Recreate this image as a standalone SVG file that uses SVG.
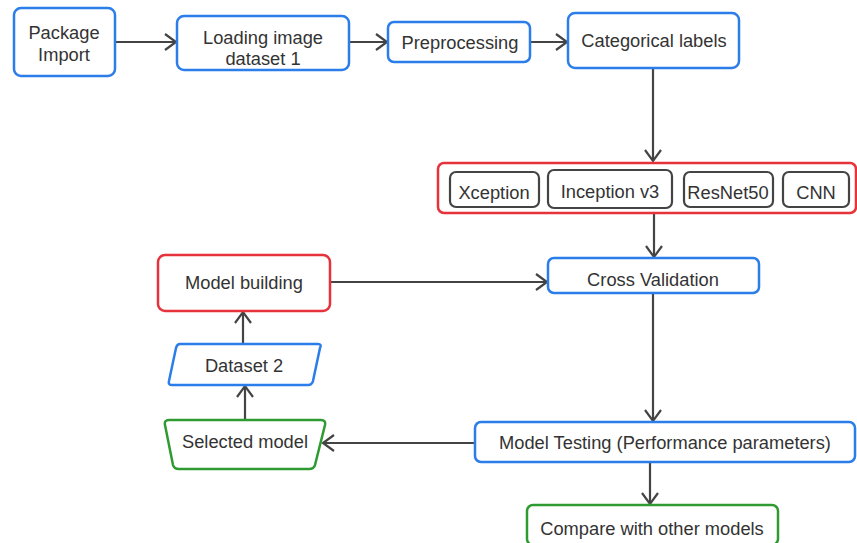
<svg xmlns="http://www.w3.org/2000/svg" width="857" height="543" viewBox="0 0 857 543">
<style>
text{font-family:"Liberation Sans",Arial,sans-serif;font-size:18.3px;fill:#333;text-anchor:middle;dominant-baseline:central}
.blue{fill:#fff;stroke:#2b7de9;stroke-width:2.5}
.red{fill:#fff;stroke:#e5323b;stroke-width:2.5}
.green{fill:#fff;stroke:#2f9a32;stroke-width:2.5}
.inner{fill:#fff;stroke:#444;stroke-width:2.2}
.conn{fill:none;stroke:#444;stroke-width:2.2;marker-end:url(#arr)}
</style>
<defs>
<marker id="arr" markerUnits="userSpaceOnUse" markerWidth="22" markerHeight="22" refX="12" refY="9" orient="auto">
<path d="M1,1 L12,9 L1,17" fill="none" stroke="#444" stroke-width="2.2"/>
</marker>
</defs>
<rect width="857" height="543" fill="#fff"/>
<g id="connectors">
<line class="conn" x1="115" y1="42" x2="176" y2="42"/>
<line class="conn" x1="349" y1="42" x2="387" y2="42"/>
<line class="conn" x1="530" y1="42" x2="567" y2="42"/>
<line class="conn" x1="653" y1="68" x2="653" y2="161"/>
<line class="conn" x1="654" y1="213" x2="654" y2="257"/>
<line class="conn" x1="330" y1="282" x2="547" y2="282"/>
<line class="conn" x1="653" y1="293" x2="653" y2="421"/>
<line class="conn" x1="474" y1="443" x2="323" y2="443"/>
<line class="conn" x1="650" y1="462" x2="650" y2="504"/>
<line class="conn" x1="245" y1="420" x2="245" y2="386"/>
<line class="conn" x1="243" y1="344" x2="243" y2="312"/>
</g>
<g id="package-import">
<rect class="blue" x="14" y="8" width="101" height="68" rx="7"/>
<text x="64" y="32">Package</text>
<text x="64" y="54">Import</text>
</g>
<g id="loading-image">
<rect class="blue" x="177" y="16" width="172" height="54" rx="7"/>
<text x="263" y="37">Loading image</text>
<text x="263" y="58">dataset 1</text>
</g>
<g id="preprocessing">
<rect class="blue" x="388" y="22" width="142" height="40" rx="6"/>
<text x="460" y="42">Preprocessing</text>
</g>
<g id="categorical-labels">
<rect class="blue" x="568" y="13" width="171" height="55" rx="7"/>
<text x="654" y="40">Categorical labels</text>
</g>
<g id="models">
<rect class="red" x="438" y="163" width="418" height="50" rx="6"/>
<g id="xception">
<rect class="inner" x="450" y="172" width="89" height="35" rx="6"/>
<text x="494" y="192">Xception</text>
</g>
<g id="inception">
<rect class="inner" x="548" y="170" width="124" height="38" rx="6"/>
<text x="610" y="191">Inception v3</text>
</g>
<g id="resnet50">
<rect class="inner" x="684" y="172" width="89" height="35" rx="6"/>
<text x="728" y="192">ResNet50</text>
</g>
<g id="cnn">
<rect class="inner" x="783" y="172" width="66" height="35" rx="6"/>
<text x="816" y="192">CNN</text>
</g>
</g>
<g id="cross-validation">
<rect class="blue" x="548" y="258" width="211" height="35" rx="6"/>
<text x="653" y="279">Cross Validation</text>
</g>
<g id="model-building">
<rect class="red" x="158" y="255" width="172" height="56" rx="7"/>
<text x="244" y="282">Model building</text>
</g>
<g id="dataset-2">
<path class="blue" d="M180,344 L318,344 Q322,344 320,348 L313,381 Q312,385 308,385 L172,385 Q168,385 169,381 L176,348 Q177,344 180,344 Z"/>
<text x="244" y="365">Dataset 2</text>
</g>
<g id="selected-model">
<path class="green" d="M169,420 L321,420 Q326,420 325,425 L315,465 Q314,469 309,469 L179,469 Q174,469 173,465 L165,425 Q164,420 169,420 Z"/>
<text x="245" y="441">Selected model</text>
</g>
<g id="model-testing">
<rect class="blue" x="475" y="422" width="380" height="40" rx="6"/>
<text x="665" y="442">Model Testing (Performance parameters)</text>
</g>
<g id="compare">
<rect class="green" x="527" y="505" width="251" height="40" rx="6"/>
<text x="652" y="528">Compare with other models</text>
</g>
</svg>
